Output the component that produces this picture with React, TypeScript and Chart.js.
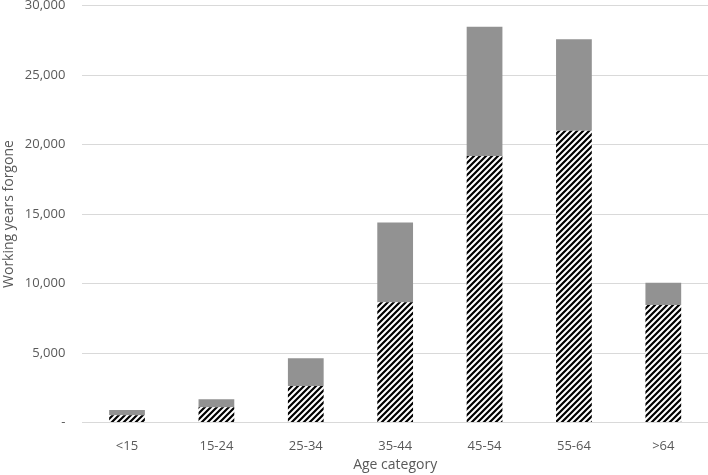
import React, { useEffect, useRef } from 'react';
import { Chart, registerables } from 'chart.js';

Chart.register(...registerables);

// === Data ===
const AGE_CATEGORIES = ['<15', '15-24', '25-34', '35-44', '45-54', '55-64', '>64'];
const HATCHED_VALUES = [520, 1100, 2640, 8650, 19170, 20990, 8450];
const GREY_VALUES = [380, 580, 1980, 5750, 9300, 6580, 1610];
const Y_TICKS = [0, 5000, 10000, 15000, 20000, 25000, 30000];

const TEXT_COLOR = '#595959';
const FONT = "'Open Sans', 'Liberation Sans', sans-serif";
const NO_COLOR = 'rgba(0,0,0,0)';

// black/white diagonal stripes like the Excel pattern fill
const makeHatch = (ctx: CanvasRenderingContext2D): CanvasPattern | string => {
  const size = 6;
  const tile = document.createElement('canvas');
  tile.width = size;
  tile.height = size;
  const t = tile.getContext('2d');
  if (!t) return '#000';
  t.fillStyle = '#ffffff';
  t.fillRect(0, 0, size, size);
  t.strokeStyle = '#000000';
  t.lineWidth = 2.2;
  t.beginPath();
  t.moveTo(-1, size + 1);
  t.lineTo(size + 1, -1);
  t.moveTo(-2, 2);
  t.lineTo(2, -2);
  t.moveTo(size - 2, size + 2);
  t.lineTo(size + 2, size - 2);
  t.stroke();
  return ctx.createPattern(tile, 'repeat') || '#000';
};

const App: React.FC = () => {
  const canvasRef = useRef<HTMLCanvasElement>(null);

  useEffect(() => {
    document.body.style.margin = '0';
    const canvas = canvasRef.current;
    if (!canvas) return;
    const ctx = canvas.getContext('2d');
    if (!ctx) return;

    const chart = new Chart(ctx, {
      type: 'bar',
      data: {
        labels: AGE_CATEGORIES,
        datasets: [
          {
            label: 'Hatched',
            data: HATCHED_VALUES,
            backgroundColor: makeHatch(ctx),
            borderWidth: 0,
            barPercentage: 0.4,
            categoryPercentage: 1,
          },
          {
            label: 'Grey',
            data: GREY_VALUES,
            backgroundColor: '#929292',
            borderWidth: 0,
            barPercentage: 0.4,
            categoryPercentage: 1,
          },
        ],
      },
      options: {
        animation: false,
        responsive: false,
        layout: { padding: { top: 0, left: 1, right: 0, bottom: 0 } },
        plugins: {
          legend: { display: false },
          tooltip: { enabled: false },
        },
        scales: {
          x: {
            stacked: true,
            // invisible tick marks used as spacing under the plot
            grid: { display: false, drawTicks: true, tickLength: 13, tickColor: NO_COLOR },
            border: { display: false },
            ticks: { color: TEXT_COLOR, font: { family: FONT, size: 13 }, padding: 3 },
            title: {
              display: true,
              text: 'Age category',
              color: TEXT_COLOR,
              font: { family: FONT, size: 14 },
              padding: { top: -1, bottom: 2 },
            },
          },
          y: {
            stacked: true,
            min: 0,
            max: 30000,
            afterBuildTicks: (axis) => {
              axis.ticks = Y_TICKS.map((v) => ({ value: v }));
            },
            grid: { color: '#d9d9d9', lineWidth: 1, drawTicks: true, tickLength: 17, tickColor: NO_COLOR },
            border: { display: false },
            ticks: {
              color: TEXT_COLOR,
              // small line height so the top label does not push the plot down
              font: { family: FONT, size: 13, lineHeight: 0.85 },
              padding: 0,
              callback: (v) => (Number(v) === 0 ? '-' : Number(v).toLocaleString('en-US')),
            },
            title: {
              display: true,
              text: 'Working years forgone',
              color: TEXT_COLOR,
              font: { family: FONT, size: 14 },
              padding: { top: 0, bottom: 7 },
            },
          },
        },
      },
    });

    return () => {
      chart.destroy();
    };
  }, []);

  return (
    <div style={{ width: 708, height: 475 }}>
      <canvas ref={canvasRef} width={708} height={475} />
    </div>
  );
};

export default App;
